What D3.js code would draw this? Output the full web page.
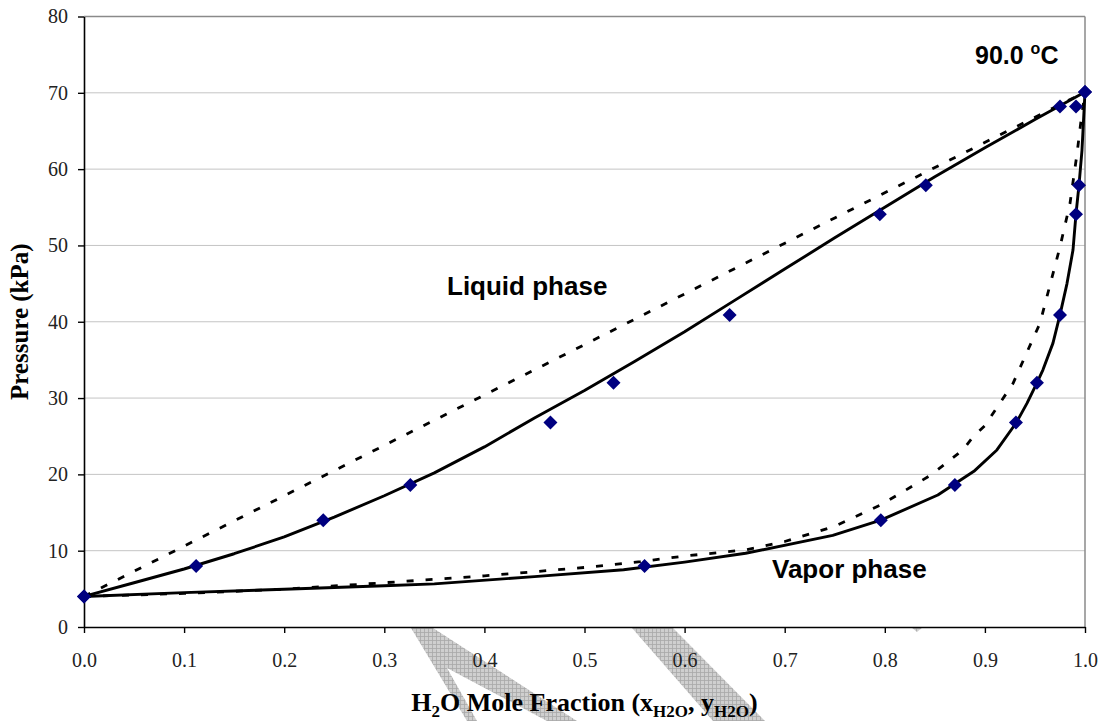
<!DOCTYPE html>
<html>
<head>
<meta charset="utf-8">
<script src="https://cdn.jsdelivr.net/npm/d3@7"></script>
<style>
  html, body { margin: 0; padding: 0; background: #fff; }
  svg { display: block; }
</style>
</head>
<body>
<svg id="chart" width="1103" height="721"></svg>
<script>
// Pressure–composition diagram for water + second component at 90.0 °C

// Measured equilibrium points: each pressure has a liquid and a vapor composition
const pressureKPa      = [4.0, 8.0, 14.0, 18.6, 26.8, 32.0, 40.9, 54.1, 57.9, 68.2, 70.1];
const xLiquidMeasured  = [0.000, 0.112, 0.239, 0.326, 0.466, 0.529, 0.645, 0.795, 0.841, 0.975, 1.000];
const yVaporMeasured   = [0.000, 0.560, 0.796, 0.870, 0.931, 0.952, 0.975, 0.991, 0.994, 0.991, 1.000];

// Fitted (non-ideal) bubble curve, [x_H2O, P]
const bubbleFit = [
  [0.00, 4.0], [0.05, 5.8], [0.10, 7.6], [0.15, 9.6], [0.20, 11.8], [0.25, 14.4],
  [0.30, 17.2], [0.35, 20.2], [0.40, 23.6], [0.45, 27.4], [0.50, 31.0], [0.55, 34.8],
  [0.60, 38.7], [0.65, 42.8], [0.70, 46.9], [0.75, 51.0], [0.80, 55.0], [0.85, 59.0],
  [0.90, 62.8], [0.95, 66.5], [1.00, 70.1]
];
// Fitted dew curve, [y_H2O, P]
const dewFit = [
  [0.000, 4.0], [0.100, 4.5], [0.200, 4.95], [0.300, 5.4], [0.350, 5.65], [0.450, 6.6],
  [0.539, 7.5], [0.600, 8.5], [0.661, 9.66], [0.748, 12.0], [0.796, 14.0], [0.853, 17.3],
  [0.889, 20.4], [0.912, 23.2], [0.931, 26.7], [0.942, 29.3], [0.952, 32.0], [0.958, 33.7],
  [0.968, 37.2], [0.975, 40.9], [0.982, 45.0], [0.988, 49.4], [0.991, 54.1], [0.994, 57.9],
  [0.997, 62.5], [1.000, 70.1]
];
// Ideal-solution (Raoult) bubble line, [x_H2O, P]
const bubbleIdeal = [[0.00, 4.0], [0.25, 20.5], [0.50, 37.0], [0.75, 53.6], [1.00, 70.1]];
// Ideal-solution dew curve, [y_H2O, P]
const dewIdeal = [
  [0.000, 4.0], [0.100, 4.4], [0.200, 4.95], [0.300, 5.8], [0.400, 6.7], [0.500, 7.8],
  [0.556, 8.56], [0.600, 9.3], [0.661, 10.1], [0.700, 11.2], [0.750, 13.2], [0.796, 16.0],
  [0.846, 19.9], [0.878, 23.2], [0.888, 24.9], [0.900, 26.4], [0.928, 31.9], [0.955, 39.8],
  [0.975, 49.8], [0.985, 55.5], [0.992, 62.0], [0.996, 66.3], [1.000, 70.1]
];

const xTicks = [0, 0.1, 0.2, 0.3, 0.4, 0.5, 0.6, 0.7, 0.8, 0.9, 1.0];
const yTicks = [0, 10, 20, 30, 40, 50, 60, 70, 80];

const svg = d3.select("#chart");

const x = d3.scaleLinear().domain([0, 1]).range([84, 1085]);
const y = d3.scaleLinear().domain([0, 80]).range([627, 16.5]);

const serif = "'Liberation Serif', 'Times New Roman', serif";
const sans = "'Liberation Sans', Arial, sans-serif";

// Hatched ribbons in the lower margin
const defs = svg.append("defs");
const pat = defs.append("pattern")
  .attr("id", "hatch").attr("patternUnits", "userSpaceOnUse")
  .attr("width", 4).attr("height", 4);
pat.append("rect").attr("width", 4).attr("height", 4).attr("fill", "#cfcfcf");
pat.append("path").attr("d", "M0,0.5H4M0.5,0V4").attr("stroke", "#a8a8a8").attr("stroke-width", 0.8);

const ribbons = [
  [[411, 628], [433, 628], [577, 721], [547, 721], [447, 668], [477, 721], [467, 721]],
  [[632, 628], [673, 628], [765, 721], [713, 721]],
  [[911, 627], [923, 627], [917, 632]]
];
svg.append("g").selectAll("path").data(ribbons).join("path")
  .attr("d", d => "M" + d.join("L") + "Z")
  .attr("fill", "url(#hatch)");

// Plot background
svg.append("rect")
  .attr("x", x(0)).attr("y", y(80))
  .attr("width", x(1) - x(0)).attr("height", y(0) - y(80))
  .attr("fill", "#fff");

// Horizontal gridlines
svg.append("g").selectAll("line").data(yTicks.filter(v => v > 0 && v < 80)).join("line")
  .attr("x1", x(0)).attr("x2", x(1))
  .attr("y1", d => y(d)).attr("y2", d => y(d))
  .attr("stroke", "#c4c4c4").attr("stroke-width", 1);

// Plot frame (top and right)
svg.append("line").attr("x1", x(0)).attr("x2", x(1)).attr("y1", y(80)).attr("y2", y(80))
  .attr("stroke", "#8a8a8a").attr("stroke-width", 1.5);
svg.append("line").attr("x1", x(1)).attr("x2", x(1)).attr("y1", y(80)).attr("y2", y(0))
  .attr("stroke", "#8a8a8a").attr("stroke-width", 1.5);

// Curves
const line = d3.line().x(d => x(d[0])).y(d => y(d[1])).curve(d3.curveLinear);
const curves = svg.append("g").attr("fill", "none").attr("stroke", "#000")
  .attr("stroke-linejoin", "round");
curves.append("path").datum(bubbleIdeal).attr("d", line)
  .attr("stroke-width", 2.8).attr("stroke-dasharray", "7,12");
curves.append("path").datum(dewIdeal).attr("d", line)
  .attr("stroke-width", 2.8).attr("stroke-dasharray", "7,12");
curves.append("path").datum(bubbleFit).attr("d", line).attr("stroke-width", 2.9);
curves.append("path").datum(dewFit).attr("d", line).attr("stroke-width", 2.9);

// Axes
const yAxis = d3.axisLeft(y).tickValues(yTicks).tickSize(6).tickSizeOuter(0).tickPadding(10)
  .tickFormat(d3.format("d"));
const xAxis = d3.axisBottom(x).tickValues(xTicks).tickSize(6).tickSizeOuter(0).tickPadding(20)
  .tickFormat(d3.format(".1f"));

const gy = svg.append("g").attr("transform", `translate(${x(0)},0)`).call(yAxis);
const gx = svg.append("g").attr("transform", `translate(0,${y(0)})`).call(xAxis);
[gx, gy].forEach(g => {
  g.select(".domain").attr("stroke", "#000").attr("stroke-width", 1.6);
  g.selectAll(".tick line").attr("stroke", "#000").attr("stroke-width", 1.4);
  g.selectAll(".tick text").attr("fill", "#222")
    .style("font-family", serif).style("font-size", "20px");
});

// Measured points
const diamond = d3.symbol().type(d3.symbolDiamond2).size(125);
const pts = svg.append("g").attr("fill", "#000080");
pts.selectAll("path.liq").data(pressureKPa).join("path").attr("class", "liq")
  .attr("d", diamond)
  .attr("transform", (p, i) => `translate(${x(xLiquidMeasured[i])},${y(p)})`);
pts.selectAll("path.vap").data(pressureKPa).join("path").attr("class", "vap")
  .attr("d", diamond)
  .attr("transform", (p, i) => `translate(${x(yVaporMeasured[i])},${y(p)})`);

// Region labels
svg.append("text").attr("x", 447).attr("y", 295)
  .style("font-family", sans).style("font-weight", "bold").style("font-size", "26px")
  .attr("fill", "#000").text("Liquid phase");
svg.append("text").attr("x", 772).attr("y", 578)
  .style("font-family", sans).style("font-weight", "bold").style("font-size", "26px")
  .attr("fill", "#000").text("Vapor phase");
const tLabel = svg.append("text").attr("x", 975).attr("y", 64)
  .style("font-family", sans).style("font-weight", "bold").style("font-size", "25px")
  .attr("fill", "#000");
tLabel.append("tspan").text("90.0 ");
tLabel.append("tspan").attr("dy", -10).style("font-size", "16px").text("o");
tLabel.append("tspan").attr("dy", 10).text("C");

// Axis titles
svg.append("text")
  .attr("transform", `translate(28,${(y(0) + y(80)) / 2}) rotate(-90)`)
  .attr("text-anchor", "middle")
  .style("font-family", serif).style("font-weight", "bold").style("font-size", "25px")
  .attr("fill", "#000").text("Pressure (kPa)");

const xt = svg.append("text")
  .attr("x", (x(0) + x(1)) / 2).attr("y", 711)
  .attr("text-anchor", "middle")
  .style("font-family", serif).style("font-weight", "bold").style("font-size", "26px")
  .attr("fill", "#000");
xt.append("tspan").text("H");
xt.append("tspan").attr("dy", 6).style("font-size", "17px").text("2");
xt.append("tspan").attr("dy", -6).text("O Mole Fraction (x");
xt.append("tspan").attr("dy", 6).style("font-size", "17px").text("H2O");
xt.append("tspan").attr("dy", -6).text(", y");
xt.append("tspan").attr("dy", 6).style("font-size", "17px").text("H2O");
xt.append("tspan").attr("dy", -6).text(")");
</script>
</body>
</html>
